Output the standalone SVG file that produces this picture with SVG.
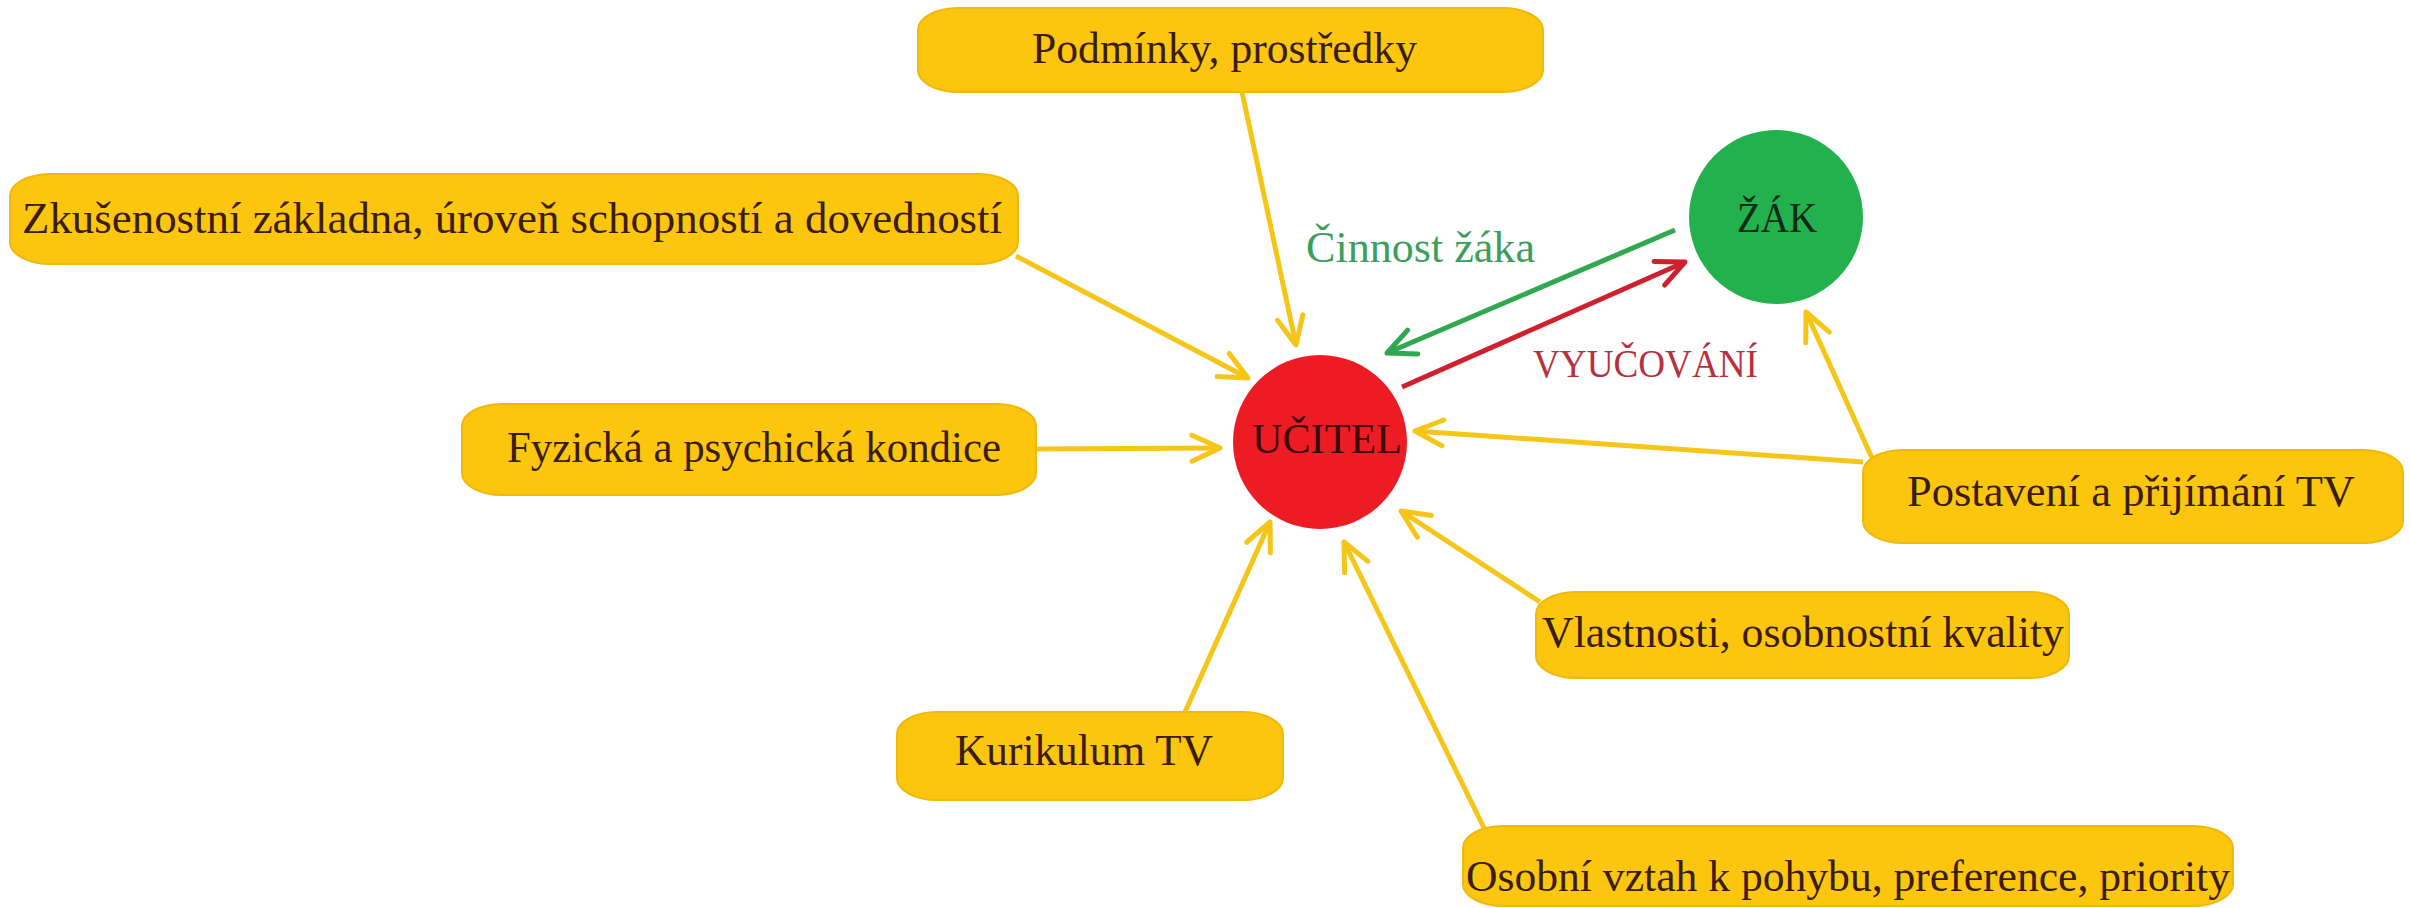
<svg xmlns="http://www.w3.org/2000/svg" width="2410" height="908" viewBox="0 0 2410 908">
<style>
.box{fill:#FCC60F;stroke:#F0B80A;stroke-width:2}
.t{font-family:"Liberation Serif","DejaVu Serif",serif;font-size:44px;fill:#3a1d0c}
.y{stroke:#F5C518;stroke-width:5;fill:none;marker-end:url(#ay)}
</style>
<defs>
<marker id="ay" markerUnits="userSpaceOnUse" markerWidth="40" markerHeight="40" viewBox="0 0 40 40" refX="36" refY="20" orient="auto"><path d="M8,7 L36,20 L8,33" fill="none" stroke="#F5C518" stroke-width="5" stroke-linecap="round" stroke-linejoin="round"/></marker>
<marker id="ag" markerUnits="userSpaceOnUse" markerWidth="40" markerHeight="40" viewBox="0 0 40 40" refX="36" refY="20" orient="auto"><path d="M8,7 L36,20 L8,33" fill="none" stroke="#2FA84F" stroke-width="5" stroke-linecap="round" stroke-linejoin="round"/></marker>
<marker id="ar" markerUnits="userSpaceOnUse" markerWidth="40" markerHeight="40" viewBox="0 0 40 40" refX="36" refY="20" orient="auto"><path d="M8,7 L36,20 L8,33" fill="none" stroke="#D0202E" stroke-width="5" stroke-linecap="round" stroke-linejoin="round"/></marker>
</defs>
<rect width="2410" height="908" fill="#ffffff"/>
<g id="connectors">
<line class="y" x1="1242" y1="92" x2="1296" y2="345"/>
<line class="y" x1="1016" y1="256" x2="1248" y2="378"/>
<line class="y" x1="1036" y1="449" x2="1220" y2="448"/>
<line class="y" x1="1185" y1="712" x2="1270" y2="522"/>
<line class="y" x1="1485" y1="830" x2="1344" y2="542"/>
<line class="y" x1="1540" y1="602" x2="1401" y2="511"/>
<line class="y" x1="1863" y1="462" x2="1415" y2="431"/>
<line class="y" x1="1872" y1="458" x2="1806" y2="312"/>
<line x1="1675" y1="230" x2="1387" y2="353" stroke="#2FA84F" stroke-width="5" marker-end="url(#ag)"/>
<line x1="1402" y1="387" x2="1685" y2="262" stroke="#D0202E" stroke-width="5" marker-end="url(#ar)"/>
<text x="1306" y="262" textLength="229" lengthAdjust="spacingAndGlyphs" style="font-family:'Liberation Serif','DejaVu Serif',serif;font-size:44px;fill:#3c9e5c">Činnost žáka</text>
<text x="1533" y="377" textLength="225" lengthAdjust="spacingAndGlyphs" style="font-family:'Liberation Serif','DejaVu Serif',serif;font-size:40px;fill:#B8303E">VYUČOVÁNÍ</text>
</g>
<g id="podminky">
<rect class="box" x="918" y="8" width="625" height="84" rx="40" ry="22"/>
<text class="t" x="1032" y="63" textLength="385" lengthAdjust="spacingAndGlyphs">Podmínky, prostředky</text>
</g>
<g id="zkusenostni">
<rect class="box" x="10" y="174" width="1008" height="90" rx="40" ry="22"/>
<text class="t" x="22" y="233" textLength="980" lengthAdjust="spacingAndGlyphs">Zkušenostní základna, úroveň schopností a dovedností</text>
</g>
<g id="fyzicka">
<rect class="box" x="462" y="404" width="574" height="91" rx="40" ry="22"/>
<text class="t" x="507" y="462" textLength="494" lengthAdjust="spacingAndGlyphs">Fyzická a psychická kondice</text>
</g>
<g id="kurikulum">
<rect class="box" x="897" y="712" width="386" height="88" rx="40" ry="22"/>
<text class="t" x="955" y="765" textLength="258" lengthAdjust="spacingAndGlyphs">Kurikulum TV</text>
</g>
<g id="osobni">
<rect class="box" x="1463" y="826" width="770" height="80" rx="40" ry="22"/>
<text class="t" x="1466" y="891" textLength="764" lengthAdjust="spacingAndGlyphs">Osobní vztah k pohybu, preference, priority</text>
</g>
<g id="vlastnosti">
<rect class="box" x="1536" y="592" width="533" height="86" rx="40" ry="22"/>
<text class="t" x="1542" y="647" textLength="522" lengthAdjust="spacingAndGlyphs">Vlastnosti, osobnostní kvality</text>
</g>
<g id="postaveni">
<rect class="box" x="1863" y="450" width="540" height="93" rx="40" ry="22"/>
<text class="t" x="1907" y="506" textLength="448" lengthAdjust="spacingAndGlyphs">Postavení a přijímání TV</text>
</g>
<g id="ucitel">
<circle cx="1320" cy="442" r="87" fill="#ED1C24"/>
<text x="1252" y="453" textLength="150" lengthAdjust="spacingAndGlyphs" style="font-family:'Liberation Serif','DejaVu Serif',serif;font-size:43px;fill:#3a0808">UČITEL</text>
</g>
<g id="zak">
<circle cx="1776" cy="217" r="87" fill="#22B14C"/>
<text x="1737" y="232" textLength="80" lengthAdjust="spacingAndGlyphs" style="font-family:'Liberation Serif','DejaVu Serif',serif;font-size:43px;fill:#0c2a14">ŽÁK</text>
</g>
</svg>
